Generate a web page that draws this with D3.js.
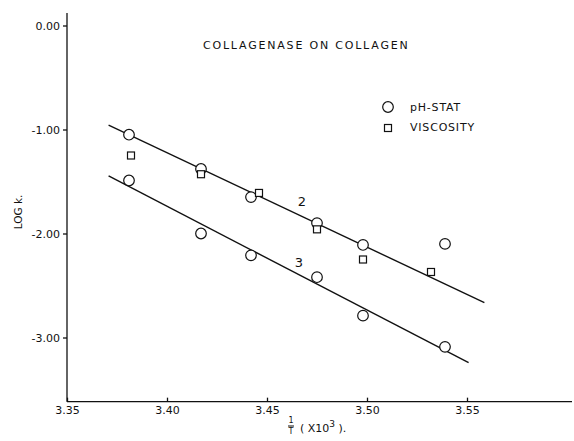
<!DOCTYPE html>
<html>
<head>
<meta charset="utf-8">
<script src="https://cdn.jsdelivr.net/npm/d3@7"></script>
<style>
  html, body { margin: 0; padding: 0; background: #fff; }
  svg { display: block; }
  text { font-family: "DejaVu Sans", "Liberation Sans", sans-serif; fill: #111; }
</style>
</head>
<body>
<svg id="chart" width="574" height="441"></svg>
<script>
// Reciprocal temperature (1/T x 10^3) for each run
const invTemp = [3.381, 3.417, 3.442, 3.475, 3.498, 3.539];
// pH-stat rates, two enzyme series (curve 2 upper, curve 3 lower)
const phStat2 = [-1.05, -1.38, -1.65, -1.90, -2.11, -2.10];
const phStat3 = [-1.49, -2.00, -2.21, -2.42, -2.79, -3.09];
// Viscosity rates
const viscX = [3.382, 3.417, 3.446, 3.475, 3.498, 3.532];
const viscY = [-1.25, -1.43, -1.61, -1.96, -2.25, -2.37];
// Fitted Arrhenius lines: [x, logk] endpoints
const fit2 = [[3.3708, -0.957], [3.5587, -2.665]];
const fit3 = [[3.3708, -1.447], [3.5508, -3.242]];
const xTicks = [3.35, 3.40, 3.45, 3.50, 3.55];
const yTicks = [0, -1, -2, -3];

const svg = d3.select("#chart");
const x = d3.scaleLinear().domain([3.35, 3.55]).range([67, 467]);
const y = d3.scaleLinear().domain([0, -3]).range([25.5, 337.5]);
const xMax = 3.6025, yMin = -3.617, yMax = 0.12;

const ink = "#111";

// axis lines
svg.append("line").attr("x1", x(3.35)).attr("x2", x(3.35))
  .attr("y1", y(yMax)).attr("y2", y(yMin)).attr("stroke", ink).attr("stroke-width", 1.3);
svg.append("line").attr("x1", x(3.35)).attr("x2", x(xMax))
  .attr("y1", y(yMin)).attr("y2", y(yMin)).attr("stroke", ink).attr("stroke-width", 1.3);

// y axis ticks
const fmt = v => (v < 0 ? "-" : "") + Math.abs(v).toFixed(2);
const yAxis = d3.axisLeft(y).tickValues(yTicks).tickFormat(fmt).tickSize(4).tickPadding(3);
const gy = svg.append("g").attr("transform", `translate(${x(3.35)},0)`).call(yAxis);
gy.select(".domain").remove();
gy.selectAll(".tick line").attr("stroke", ink).attr("stroke-width", 1.3);
gy.selectAll(".tick text").style("font-size", "11px").attr("fill", ink);

// x axis ticks (pointing inward)
const xAxis = d3.axisBottom(x).tickValues(xTicks).tickFormat(d3.format(".2f"))
  .tickSizeInner(-4).tickSizeOuter(0).tickPadding(5);
const gx = svg.append("g").attr("transform", `translate(0,${y(yMin)})`).call(xAxis);
gx.select(".domain").remove();
gx.selectAll(".tick line").attr("stroke", ink).attr("stroke-width", 1.3);
gx.selectAll(".tick text").style("font-size", "11px").attr("fill", ink);

// fitted lines
const line = d3.line().x(d => x(d[0])).y(d => y(d[1]));
[fit2, fit3].forEach(f => {
  svg.append("path").attr("d", line(f)).attr("fill", "none")
    .attr("stroke", ink).attr("stroke-width", 1.4);
});

// pH-stat circles
const circles = invTemp.map((t, i) => [t, phStat2[i]])
  .concat(invTemp.map((t, i) => [t, phStat3[i]]));
svg.append("g").selectAll("circle").data(circles).join("circle")
  .attr("cx", d => x(d[0])).attr("cy", d => y(d[1])).attr("r", 5.3)
  .attr("fill", "#fff").attr("stroke", ink).attr("stroke-width", 1.2);

// viscosity squares
const sq = 7;
svg.append("g").selectAll("rect").data(viscX.map((t, i) => [t, viscY[i]])).join("rect")
  .attr("x", d => x(d[0]) - sq / 2).attr("y", d => y(d[1]) - sq / 2)
  .attr("width", sq).attr("height", sq)
  .attr("fill", "#fff").attr("stroke", ink).attr("stroke-width", 1.2);

// curve labels
svg.append("text").attr("x", 302).attr("y", 206).attr("text-anchor", "middle")
  .style("font-size", "13px").text("2");
svg.append("text").attr("x", 299).attr("y", 267).attr("text-anchor", "middle")
  .style("font-size", "13px").text("3");

// title
svg.append("text").attr("x", 203).attr("y", 49)
  .style("font-size", "11px").style("letter-spacing", "1.8px")
  .text("COLLAGENASE ON COLLAGEN");

// legend
svg.append("circle").attr("cx", 388).attr("cy", 107).attr("r", 5.3)
  .attr("fill", "#fff").attr("stroke", ink).attr("stroke-width", 1.2);
svg.append("text").attr("x", 410).attr("y", 111).style("font-size", "11px")
  .style("letter-spacing", "0.8px").text("pH-STAT");
svg.append("rect").attr("x", 388 - sq / 2).attr("y", 128 - sq / 2)
  .attr("width", sq).attr("height", sq)
  .attr("fill", "#fff").attr("stroke", ink).attr("stroke-width", 1.2);
svg.append("text").attr("x", 410).attr("y", 131).style("font-size", "11px")
  .style("letter-spacing", "0.8px").text("VISCOSITY");

// y label
svg.append("text").attr("transform", "translate(22,212) rotate(-90)")
  .attr("text-anchor", "middle").style("font-size", "10.5px").text("LOG k.");

// x label: 1/T (X10^3).
const xl = svg.append("g").attr("transform", "translate(291,0)");
xl.append("text").attr("x", 0).attr("y", 423).attr("text-anchor", "middle")
  .style("font-size", "8px").text("1");
xl.append("line").attr("x1", -3).attr("x2", 3).attr("y1", 426).attr("y2", 426)
  .attr("stroke", ink).attr("stroke-width", 1);
xl.append("text").attr("x", 0).attr("y", 434).attr("text-anchor", "middle")
  .style("font-size", "8px").text("T");
const xt = xl.append("text").attr("x", 9).attr("y", 432).style("font-size", "11px");
xt.append("tspan").text("( X10");
xt.append("tspan").attr("dy", -5).style("font-size", "9px").text("3");
xt.append("tspan").attr("dy", 5).text(" ).");
</script>
</body>
</html>
